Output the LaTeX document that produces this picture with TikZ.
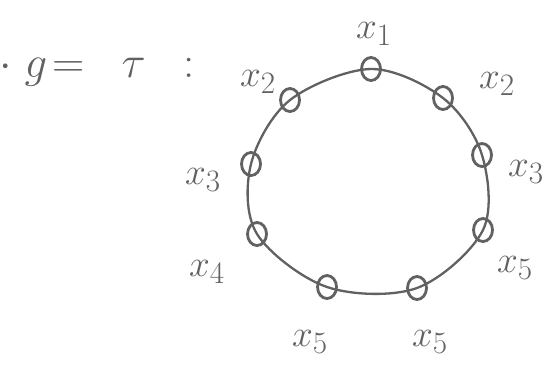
\documentclass[tikz,border=0pt]{standalone}
\usepackage{graphicx}
\usepackage{amsmath}
\usetikzlibrary{shapes.geometric}
\newcommand{\bigtxt}[2]{\scalebox{#1}{\fontsize{24.88}{28}\selectfont #2}}
\begin{document}
\begin{tikzpicture}[x=1pt,y=-1pt,
  ink/.style={draw=black!62, line width=2.8pt},
  vert/.style={ink, ellipse, minimum width=19pt, minimum height=23pt, inner sep=0pt},
  lab/.style={text=black!62, inner sep=0pt}]
\useasboundingbox (0,0) rectangle (551,365);
\node[lab] (title) at (97,72) {\bigtxt{1.8}{$\cdot\; g \!= \;\;\tau\;\; :$}};
% vertices
\node[vert] (v1) at (371,69) {};
\node[vert] (v2) at (443,98) {};
\node[vert] (v3) at (482,155) {};
\node[vert] (v4) at (483,230) {};
\node[vert] (v5) at (417,288) {};
\node[vert] (v6) at (327,287) {};
\node[vert] (v7) at (257,234) {};
\node[vert] (v8) at (251,164) {};
\node[vert] (v9) at (290,100) {};
% cycle
\draw[draw=black!62, line width=2.3pt] plot[smooth cycle, tension=0.55] coordinates
  {(v1.center) (v2.center) (v3.center) (v4.center) (v5.center) (v6.center) (v7.center) (v8.center) (v9.center)};
% labels
\node[lab] (l1) at (374,34) {\bigtxt{1.5}{$x_1$}};
\node[lab] (l2) at (497,84) {\bigtxt{1.5}{$x_2$}};
\node[lab] (l3) at (526,172) {\bigtxt{1.5}{$x_3$}};
\node[lab] (l4) at (515,268) {\bigtxt{1.5}{$x_5$}};
\node[lab] (l5) at (430,342) {\bigtxt{1.5}{$x_5$}};
\node[lab] (l6) at (310,342) {\bigtxt{1.5}{$x_5$}};
\node[lab] (l7) at (207,272) {\bigtxt{1.5}{$x_4$}};
\node[lab] (l8) at (203,180) {\bigtxt{1.5}{$x_3$}};
\node[lab] (l9) at (258,82) {\bigtxt{1.5}{$x_2$}};
\end{tikzpicture}
\end{document}
